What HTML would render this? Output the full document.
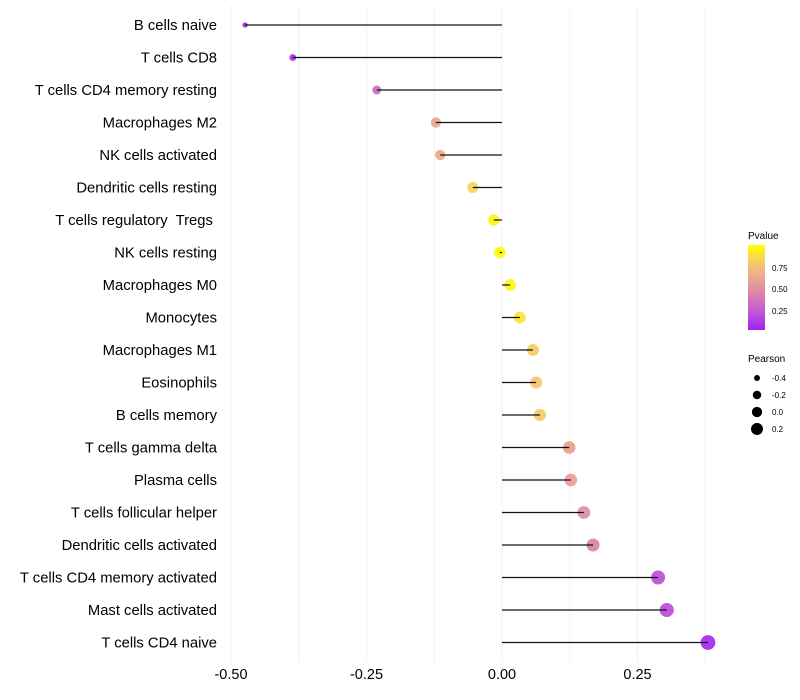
<!DOCTYPE html>
<html><head><meta charset="utf-8"><style>
body{margin:0;background:#fff}
svg{display:block;font-family:"Liberation Sans",sans-serif}
text{white-space:pre}
</style></head><body>
<svg id="chart" width="800" height="700">
<defs><linearGradient id="pg" x1="0" y1="1" x2="0" y2="0">
<stop offset="0" stop-color="#a020f0"/><stop offset="0.25" stop-color="#c860d0"/><stop offset="0.5" stop-color="#e3929f"/><stop offset="0.75" stop-color="#f3c07a"/><stop offset="1" stop-color="#ffff00"/>
</linearGradient></defs>
<g id="grid"></g>
<g id="marks"></g>
<g id="ylabels"></g>
<g id="xlabels"></g>
<g>
<text x="748" y="239" font-size="10">Pvalue</text>
<rect x="748" y="245" width="17" height="85" fill="url(#pg)"/>
<text x="772" y="271" font-size="8">0.75</text>
<text x="772" y="292" font-size="8">0.50</text>
<text x="772" y="314" font-size="8">0.25</text>
</g>
<g id="sizeleg">
<text x="748" y="362" font-size="10">Pearson</text>
</g>
</svg>
<script>
const categories=["B cells naive","T cells CD8","T cells CD4 memory resting","Macrophages M2","NK cells activated","Dendritic cells resting","T cells regulatory  Tregs ","NK cells resting","Macrophages M0","Monocytes","Macrophages M1","Eosinophils","B cells memory","T cells gamma delta","Plasma cells","T cells follicular helper","Dendritic cells activated","T cells CD4 memory activated","Mast cells activated","T cells CD4 naive"];
const pearson=[-0.474,-0.386,-0.231,-0.122,-0.114,-0.054,-0.015,-0.004,0.015,0.033,0.057,0.063,0.070,0.124,0.127,0.151,0.168,0.288,0.304,0.380];
const pvalue=[0.02,0.05,0.3,0.6,0.62,0.82,0.96,0.99,0.96,0.9,0.8,0.77,0.79,0.58,0.57,0.47,0.42,0.18,0.17,0.04];
const xTicks=[-0.5,-0.25,0,0.25];
const xTickLabels=["-0.50","-0.25","0.00","0.25"];
const sizeLegend=[-0.4,-0.2,0.0,0.2];
const NS="http://www.w3.org/2000/svg";
const X=v=>502+v*542;
const Y=i=>25+i*32.5;
const R=v=>Math.sqrt(Math.max(4,33+55*v));
const stops=[[160,32,240],[200,96,208],[227,146,159],[243,192,122],[255,255,0]];
function col(p){const s=Math.min(3.999,Math.max(0,p*4)),k=Math.floor(s),t=s-k;
 const c=stops[k].map((v,j)=>Math.round(v+(stops[k+1][j]-v)*t));return `rgb(${c})`;}
function mk(tag,attrs,parent){const e=document.createElementNS(NS,tag);for(const k in attrs)e.setAttribute(k,attrs[k]);parent.appendChild(e);return e;}
const grid=document.getElementById('grid'),marks=document.getElementById('marks'),yl=document.getElementById('ylabels'),xl=document.getElementById('xlabels');
for(let g=-0.5;g<=0.376;g+=0.125){
 const l=mk('line',{x1:X(g),x2:X(g),y1:5,y2:662,stroke:'#f2f2f2','stroke-width':1},grid);
 
 
}
xTicks.forEach((t,i)=>{
 const e=mk('text',{x:X(t),y:679,'font-size':14.5,'text-anchor':'middle',fill:'#000'},xl);
 e.textContent=xTickLabels[i];
 
 
});
categories.forEach((c,i)=>{
 const t=mk('text',{x:217,y:Y(i)+5,'font-size':14.8,'text-anchor':'end',fill:'#000'},yl);
 t.textContent=c;
 
 
 const d=mk('circle',{cx:X(pearson[i]),cy:Y(i),r:R(pearson[i]),fill:col(pvalue[i]),'fill-opacity':0.92},marks);
 
 
 const s=mk('line',{x1:X(0),x2:X(pearson[i]),y1:Y(i),y2:Y(i),stroke:'#111','stroke-width':1.2},marks);
 
 
});
const sl=document.getElementById('sizeleg');
sizeLegend.forEach((v,i)=>{
 const y=378+i*17;
 const c=mk('circle',{cx:757,cy:y,r:R(v)*0.9,fill:'#000'},sl);
 
 
 const t=mk('text',{x:772,y:y+3,'font-size':8},sl);
 t.textContent=v.toFixed(1);
 
 
});
</script>
</body></html>
